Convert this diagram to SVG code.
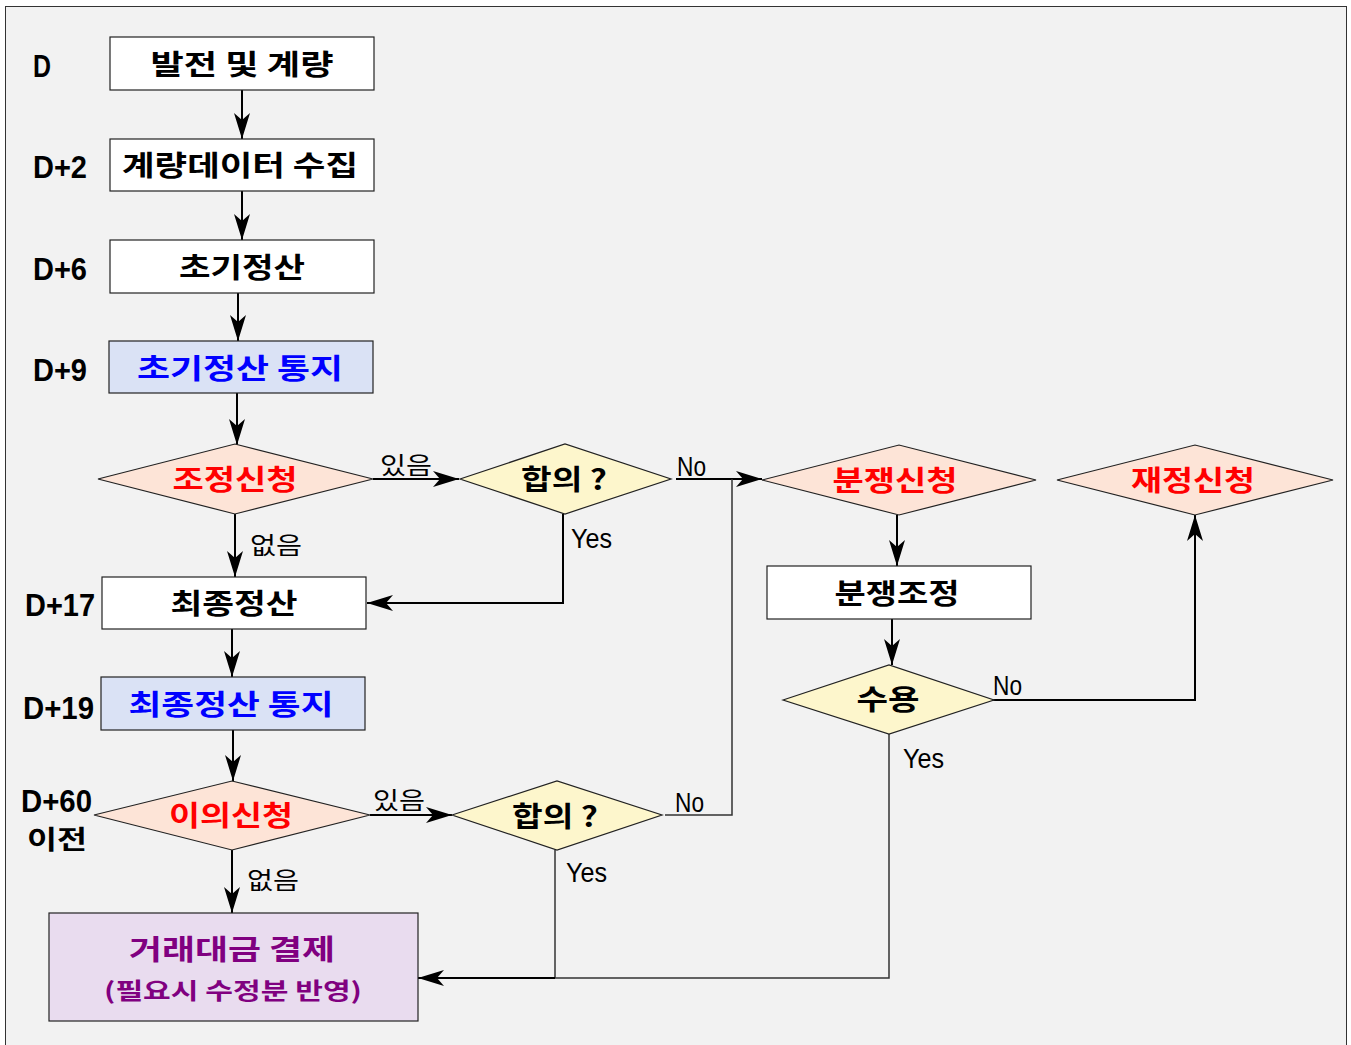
<svg xmlns="http://www.w3.org/2000/svg" width="1351" height="1045" viewBox="0 0 1351 1045">
<defs>
<marker id="arr" viewBox="0 0 26 16" refX="26" refY="8" markerWidth="26" markerHeight="16" markerUnits="userSpaceOnUse" orient="auto">
<path d="M0,0 L26,8 L0,16 L7,8 Z" fill="#000"/>
</marker>
<style>
.box{stroke:#222;stroke-width:1.2}
.w{fill:#fff}
.blue{fill:#dae2f5}
.peach{fill:#fde4d7}
.yel{fill:#fdf6cc}
.pur{fill:#e9dcef}
.kt{font-family:"Noto Sans CJK KR","Noto Sans",sans-serif;font-weight:bold;font-size:28px;text-anchor:middle}
.lab{font-family:"Noto Sans CJK KR","Noto Sans",sans-serif;font-size:24px;fill:#000}
.lat{font-family:"Liberation Sans",Arial,sans-serif;font-size:27px;fill:#000}
.dl{font-family:"Liberation Sans",Arial,sans-serif;font-size:31px;font-weight:bold;fill:#000}
.c{fill:none;stroke:#000;stroke-width:2}
.t{fill:none;stroke:#333;stroke-width:1.5}
</style>
</defs>
<rect x="0" y="0" width="1351" height="1045" fill="#fff"/>
<rect x="5.5" y="6.5" width="1341" height="1050" fill="#f2f2f2" stroke="#333" stroke-width="1"/>

<g id="day-labels">
<text class="dl" x="33" y="77" textLength="18" lengthAdjust="spacingAndGlyphs">D</text>
<text class="dl" x="33" y="178" textLength="54" lengthAdjust="spacingAndGlyphs">D+2</text>
<text class="dl" x="33" y="280" textLength="54" lengthAdjust="spacingAndGlyphs">D+6</text>
<text class="dl" x="33" y="381" textLength="54" lengthAdjust="spacingAndGlyphs">D+9</text>
<text class="dl" x="25" y="616" textLength="70" lengthAdjust="spacingAndGlyphs">D+17</text>
<text class="dl" x="23" y="719" textLength="71" lengthAdjust="spacingAndGlyphs">D+19</text>
<text class="dl" x="21" y="812" textLength="71" lengthAdjust="spacingAndGlyphs">D+60</text>
<text class="kt" x="57" y="849" style="font-size:26px" textLength="60" lengthAdjust="spacingAndGlyphs">이전</text>
</g>

<g id="connectors">
<path class="c" d="M242,90 V139" marker-end="url(#arr)"/>
<path class="c" d="M242,191 V240" marker-end="url(#arr)"/>
<path class="c" d="M238,293 V341" marker-end="url(#arr)"/>
<path class="c" d="M237,393 V445" marker-end="url(#arr)"/>
<path class="c" d="M373,479 H459" marker-end="url(#arr)"/>
<path class="c" d="M235,514 V577" marker-end="url(#arr)"/>
<path class="c" d="M563,514 V603 H367" marker-end="url(#arr)"/>
<path class="c" d="M676,479 H762" marker-end="url(#arr)"/>
<path class="t" d="M665,815 H732 V479"/>
<path class="c" d="M897,515 V566" marker-end="url(#arr)"/>
<path class="c" d="M892,619 V665" marker-end="url(#arr)"/>
<path class="c" d="M993,700 H1195 V515" marker-end="url(#arr)"/>
<path class="t" d="M889,734 V978 H418"/>
<path class="t" d="M555,850 V978"/>
<path class="c" d="M555,978 H418" marker-end="url(#arr)"/>
<path class="c" d="M232,629 V677" marker-end="url(#arr)"/>
<path class="c" d="M233,730 V781" marker-end="url(#arr)"/>
<path class="c" d="M370,815 H452" marker-end="url(#arr)"/>
<path class="c" d="M232,850 V913" marker-end="url(#arr)"/>
<text class="lab" x="380" y="474" textLength="52" lengthAdjust="spacingAndGlyphs">있음</text>
<text class="lab" x="250" y="554" textLength="52" lengthAdjust="spacingAndGlyphs">없음</text>
<text class="lab" x="373" y="809" textLength="52" lengthAdjust="spacingAndGlyphs">있음</text>
<text class="lab" x="247" y="889" textLength="52" lengthAdjust="spacingAndGlyphs">없음</text>
<text class="lat" x="677" y="476" textLength="29" lengthAdjust="spacingAndGlyphs">No</text>
<text class="lat" x="571" y="548" textLength="41" lengthAdjust="spacingAndGlyphs">Yes</text>
<text class="lat" x="675" y="812" textLength="29" lengthAdjust="spacingAndGlyphs">No</text>
<text class="lat" x="566" y="882" textLength="41" lengthAdjust="spacingAndGlyphs">Yes</text>
<text class="lat" x="993" y="695" textLength="29" lengthAdjust="spacingAndGlyphs">No</text>
<text class="lat" x="903" y="768" textLength="41" lengthAdjust="spacingAndGlyphs">Yes</text>
</g>

<g id="n-gen">
<rect class="box w" x="110" y="37" width="264" height="53"/>
<text class="kt" x="242" y="75" textLength="183" lengthAdjust="spacingAndGlyphs">발전 및 계량</text>
</g>
<g id="n-collect">
<rect class="box w" x="110" y="139" width="264" height="52"/>
<text class="kt" x="240" y="176" textLength="236" lengthAdjust="spacingAndGlyphs">계량데이터 수집</text>
</g>
<g id="n-init">
<rect class="box w" x="110" y="240" width="264" height="53"/>
<text class="kt" x="242" y="278" textLength="126" lengthAdjust="spacingAndGlyphs">초기정산</text>
</g>
<g id="n-init-notice">
<rect class="box blue" x="109" y="341" width="264" height="52"/>
<text class="kt" x="240" y="379" fill="#0000ff" textLength="206" lengthAdjust="spacingAndGlyphs">초기정산 통지</text>
</g>
<g id="n-adjust">
<polygon class="box peach" points="98,479 235,444 373,479 235,514"/>
<text class="kt" x="235" y="490" fill="#ff0000" textLength="125" lengthAdjust="spacingAndGlyphs">조정신청</text>
</g>
<g id="n-agree1">
<polygon class="box yel" points="460,479 565,444 671,479 565,514"/>
<text class="kt" x="564" y="490" fill="#000" textLength="86" lengthAdjust="spacingAndGlyphs">합의 ?</text>
</g>
<g id="n-dispute">
<polygon class="box peach" points="762,480 899,445 1036,480 899,515"/>
<text class="kt" x="895" y="491" fill="#ff0000" textLength="125" lengthAdjust="spacingAndGlyphs">분쟁신청</text>
</g>
<g id="n-rejudge">
<polygon class="box peach" points="1057,480 1195,445 1333,480 1195,515"/>
<text class="kt" x="1193" y="491" fill="#ff0000" textLength="124" lengthAdjust="spacingAndGlyphs">재정신청</text>
</g>
<g id="n-final">
<rect class="box w" x="102" y="577" width="264" height="52"/>
<text class="kt" x="234" y="614" textLength="127" lengthAdjust="spacingAndGlyphs">최종정산</text>
</g>
<g id="n-mediation">
<rect class="box w" x="767" y="566" width="264" height="53"/>
<text class="kt" x="897" y="604" textLength="125" lengthAdjust="spacingAndGlyphs">분쟁조정</text>
</g>
<g id="n-accept">
<polygon class="box yel" points="783,700 889,665 994,700 889,734"/>
<text class="kt" x="888" y="710" textLength="63" lengthAdjust="spacingAndGlyphs">수용</text>
</g>
<g id="n-final-notice">
<rect class="box blue" x="101" y="677" width="264" height="53"/>
<text class="kt" x="231" y="715" fill="#0000ff" textLength="205" lengthAdjust="spacingAndGlyphs">최종정산 통지</text>
</g>
<g id="n-objection">
<polygon class="box peach" points="94,815 232,781 370,815 232,850"/>
<text class="kt" x="231" y="826" fill="#ff0000" textLength="124" lengthAdjust="spacingAndGlyphs">이의신청</text>
</g>
<g id="n-agree2">
<polygon class="box yel" points="452,815 557,781 662,815 557,850"/>
<text class="kt" x="555" y="827" fill="#000" textLength="86" lengthAdjust="spacingAndGlyphs">합의 ?</text>
</g>
<g id="n-settle">
<rect class="box pur" x="49" y="913" width="369" height="108"/>
<text class="kt" x="232" y="960" fill="#800080" textLength="206" lengthAdjust="spacingAndGlyphs">거래대금 결제</text>
<text class="kt" x="233" y="999" fill="#800080" style="font-size:23px" textLength="258" lengthAdjust="spacingAndGlyphs">(필요시 수정분 반영)</text>
</g>
</svg>
